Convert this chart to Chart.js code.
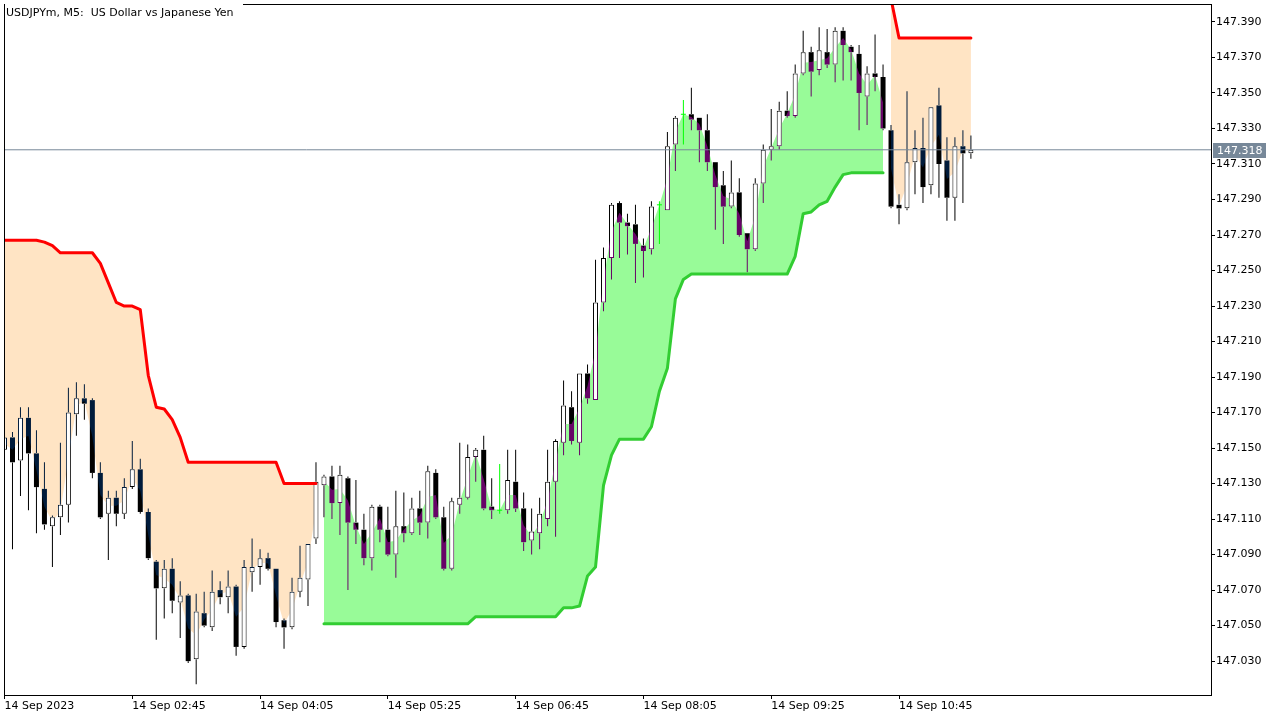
<!DOCTYPE html>
<html>
<head>
<meta charset="utf-8">
<script src="https://cdn.jsdelivr.net/npm/chart.js@4.4.0/dist/chart.umd.min.js"></script>
<style>
html,body{margin:0;padding:0;background:#fff;overflow:hidden}
canvas{display:block}
</style>
</head>
<body>
<canvas id="c" width="1280" height="720"></canvas>
<script>
// ---- data (USDJPYm, M5, bars from 14 Sep 01:25) ----
const opens = [147.149,147.156,147.143,147.167,147.147,147.127,147.106,147.111,147.118,147.169,
147.178,147.177,147.136,147.113,147.122,147.113,147.128,147.138,147.114,147.086,
147.071,147.082,147.063,147.067,147.031,147.057,147.049,147.070,147.066,147.072,
147.038,147.080,147.083,147.088,147.082,147.053,147.049,147.069,147.076,147.099,
147.129,147.134,147.119,147.133,147.108,147.104,147.088,147.117,147.104,147.090,
147.106,147.102,147.116,147.108,147.136,147.111,147.082,147.118,147.122,147.145,
147.149,147.117,147.115,147.115,147.131,147.116,147.098,147.102,147.110,147.131,
147.153,147.173,147.153,147.192,147.177,147.232,147.257,147.288,147.277,147.276,
147.264,147.262,147.287,147.284,147.321,147.338,147.338,147.336,147.329,147.311,
147.298,147.286,147.294,147.271,147.262,147.299,147.318,147.320,147.340,147.337,
147.361,147.373,147.363,147.373,147.366,147.385,147.376,147.372,147.348,147.361,
147.359,147.329,147.287,147.285,147.311,147.319,147.298,147.343,147.312,147.291,
147.320,147.316];
const highs = [147.157,147.159,147.173,147.173,147.160,147.142,147.112,147.153,147.184,147.187,
147.186,147.178,147.142,147.126,147.126,147.133,147.154,147.144,147.116,147.087,
147.087,147.088,147.075,147.068,147.068,147.069,147.081,147.075,147.081,147.073,
147.087,147.099,147.093,147.091,147.082,147.054,147.077,147.095,147.096,147.142,
147.135,147.140,147.140,147.134,147.132,147.113,147.118,147.118,147.117,147.126,
147.125,147.122,147.126,147.140,147.138,147.117,147.122,147.153,147.152,147.150,
147.157,147.133,147.141,147.149,147.149,147.125,147.116,147.122,147.149,147.155,
147.188,147.182,147.192,147.197,147.256,147.263,147.288,147.289,147.282,147.287,
147.268,147.289,147.289,147.328,147.337,147.346,147.353,147.336,147.338,147.311,
147.306,147.312,147.302,147.271,147.302,147.321,147.341,147.345,147.351,147.366,
147.385,147.376,147.387,147.386,147.387,147.387,147.377,147.377,147.365,147.383,
147.366,147.332,147.293,147.351,147.329,147.336,147.342,147.353,147.325,147.325,
147.329,147.326];
const lows = [147.147,147.093,147.123,147.115,147.102,147.104,147.083,147.101,147.108,147.157,
147.166,147.133,147.110,147.087,147.106,147.110,147.127,147.113,147.087,147.042,
147.054,147.057,147.043,147.029,147.017,147.049,147.047,147.062,147.057,147.033,
147.037,147.069,147.073,147.081,147.049,147.037,147.048,147.066,147.061,147.096,
147.111,147.110,147.101,147.070,147.096,147.084,147.081,147.097,147.089,147.077,
147.097,147.101,147.101,147.099,147.110,147.081,147.081,147.113,147.121,147.131,
147.115,147.110,147.113,147.113,147.114,147.092,147.090,147.093,147.106,147.100,
147.146,147.152,147.146,147.175,147.177,147.227,147.245,147.257,147.259,147.243,
147.246,147.259,147.265,147.284,147.306,147.321,147.329,147.311,147.306,147.273,
147.265,147.285,147.269,147.249,147.261,147.288,147.312,147.318,147.336,147.336,
147.360,147.348,147.360,147.364,147.356,147.357,147.357,147.329,147.332,147.351,
147.329,147.285,147.276,147.284,147.293,147.288,147.293,147.291,147.278,147.278,
147.288,147.313];
const closes = [147.156,147.142,147.167,147.147,147.128,147.107,147.111,147.118,147.170,147.178,
147.175,147.136,147.111,147.122,147.113,147.128,147.138,147.114,147.088,147.071,
147.082,147.064,147.067,147.030,147.058,147.050,147.069,147.066,147.072,147.038,
147.083,147.083,147.088,147.082,147.052,147.049,147.069,147.077,147.096,147.131,
147.134,147.119,147.135,147.108,147.104,147.088,147.117,147.104,147.090,147.106,
147.102,147.116,147.108,147.137,147.111,147.082,147.120,147.122,147.145,147.149,
147.116,147.115,147.115,147.132,147.116,147.097,147.103,147.113,147.131,147.154,
147.174,147.154,147.192,147.178,147.232,147.257,147.287,147.277,147.275,147.265,
147.261,147.286,147.287,147.320,147.336,147.338,147.335,147.329,147.311,147.297,
147.286,147.294,147.270,147.262,147.299,147.318,147.320,147.340,147.337,147.361,
147.373,147.362,147.374,147.366,147.385,147.377,147.373,147.350,147.361,147.359,
147.330,147.286,147.285,147.311,147.319,147.297,147.342,147.310,147.291,147.320,
147.316,147.318];

// trailing stop, down-trend part 1 (bars 0..39)
const downStopAStart = 0;
const downStopA = [147.267,147.267,147.267,147.267,147.267,147.266,147.264,147.260,147.260,147.260,
147.260,147.260,147.254,147.243,147.232,147.230,147.230,147.228,147.191,147.173,
147.172,147.166,147.156,147.142,147.142,147.142,147.142,147.142,147.142,147.142,
147.142,147.142,147.142,147.142,147.142,147.130,147.130,147.130,147.130,147.130];
// trailing stop, up-trend (bars 40..110)
const upStopStart = 40;
const upStop = [147.051,147.051,147.051,147.051,147.051,147.051,147.051,147.051,147.051,147.051,
147.051,147.051,147.051,147.051,147.051,147.051,147.051,147.051,147.051,147.055,
147.055,147.055,147.055,147.055,147.055,147.055,147.055,147.055,147.055,147.055,
147.060,147.060,147.061,147.078,147.083,147.129,147.146,147.155,147.155,147.155,
147.155,147.162,147.182,147.195,147.234,147.245,147.248,147.248,147.248,147.248,
147.248,147.248,147.248,147.248,147.248,147.248,147.248,147.248,147.248,147.258,
147.282,147.283,147.287,147.289,147.297,147.304,147.305,147.305,147.305,147.305,
147.305];
// trailing stop, down-trend part 2 (bars 111..121)
const downStopBStart = 111;
const downStopB = [147.403,147.381,147.381,147.381,147.381,147.381,147.381,147.381,147.381,147.381,147.381];

const priceTicks = [147.030,147.050,147.070,147.090,147.110,147.130,147.150,147.170,147.190,147.210,
147.230,147.250,147.270,147.290,147.310,147.330,147.350,147.370,147.390];
const timeLabelBars = [0,16,32,48,64,80,96,112];
const timeLabels = ['14 Sep 2023','14 Sep 02:45','14 Sep 04:05','14 Sep 05:25','14 Sep 06:45','14 Sep 08:05','14 Sep 09:25','14 Sep 10:45'];
const lastPrice = 147.318;
const titleText = 'USDJPYm, M5:  US Dollar vs Japanese Yen';

const xMin = 0.0625, xMax = 151.0625;
const yMin = 147.01091, yMax = 147.39955;

// ---- derived marks ----
const upBodies=[], downBodies=[], upperWicks=[], lowerWicks=[], dojiWicks=[], dojiTicks=[];
for (let i=0;i<opens.length;i++){
  const o=opens[i], c=closes[i], h=highs[i], l=lows[i];
  if (o===c){ dojiWicks.push({x:i,y:[l,h]}); dojiTicks.push({x:i,y:c}); continue; }
  const top=Math.max(o,c), bot=Math.min(o,c);
  (c>o?upBodies:downBodies).push({x:i,y:[bot,top]});
  if (h>top) upperWicks.push({x:i,y:[top,h]});
  if (l<bot) lowerWicks.push({x:i,y:[l,bot]});
}
const pts = (arr,start)=>arr.map((v,j)=>({x:start+j,y:v}));
const mids = (arr,start)=>arr.map((v,j)=>{const i=start+j;return {x:i,y:(opens[i]+closes[i])/2};});

const PEACH='#ffe4c4', PALE='#98fb98';
function fillPair(arr,start,color){
  return [
    {type:'line',data:pts(arr,start),fill:'+1',backgroundColor:color,borderColor:'rgba(0,0,0,0)',borderWidth:0,pointRadius:0,order:10,tension:0},
    {type:'line',data:mids(arr,start),fill:false,borderColor:'rgba(0,0,0,0)',borderWidth:0,pointRadius:0,order:10,tension:0}
  ];
}
const barCommon = {type:'bar',grouped:false,borderSkipped:false,inflateAmount:0};
const stopLine = (arr,start,color)=>({type:'line',data:pts(arr,start),borderColor:color,borderWidth:3,pointRadius:0,fill:false,order:2,tension:0,borderJoinStyle:'round',borderCapStyle:'round',clip:0});

const datasets = [
  ...fillPair(downStopA,downStopAStart,PEACH),
  ...fillPair(upStop,upStopStart,PALE),
  ...fillPair(downStopB,downStopBStart,PEACH),
  Object.assign({},barCommon,{data:upBodies,backgroundColor:'rgba(0,0,0,0)',borderColor:'#fff',borderWidth:1,barThickness:5,maxBarThickness:5,order:8,blend:true}),
  Object.assign({},barCommon,{data:downBodies,backgroundColor:'#fff',borderWidth:0,barThickness:5,maxBarThickness:5,order:8,blend:true}),
  Object.assign({},barCommon,{data:upperWicks,backgroundColor:'#fff',borderWidth:0,barThickness:1,maxBarThickness:1,order:8,blend:true}),
  Object.assign({},barCommon,{data:lowerWicks,backgroundColor:'#fff',borderWidth:0,barThickness:1,maxBarThickness:1,order:8,blend:true}),
  Object.assign({},barCommon,{data:upBodies,backgroundColor:'#fff',borderColor:'rgba(0,0,0,0)',borderWidth:1,barThickness:5,maxBarThickness:5,order:7}),
  Object.assign({},barCommon,{data:dojiWicks,backgroundColor:'#00ff00',borderWidth:0,barThickness:1,maxBarThickness:1,order:5}),
  {type:'line',data:dojiTicks,showLine:false,pointStyle:'line',pointRadius:2.5,pointBorderColor:'#00ff00',pointBorderWidth:1,order:5},
  stopLine(downStopA,downStopAStart,'#ff0000'),
  stopLine(upStop,upStopStart,'#32cd32'),
  stopLine(downStopB,downStopBStart,'#ff0000'),
  {type:'line',data:[{x:xMin,y:lastPrice},{x:xMax,y:lastPrice}],borderColor:'#778899',borderWidth:1,pointRadius:0,fill:false,order:1}
];

const blendPlugin = {
  id:'blend',
  beforeDatasetDraw(chart,args){ if (chart.data.datasets[args.index].blend){ chart.ctx.save(); chart.ctx.globalCompositeOperation='difference'; } },
  afterDatasetDraw(chart,args){ if (chart.data.datasets[args.index].blend){ chart.ctx.restore(); } }
};
const decoPlugin = {
  id:'deco',
  beforeDraw(chart){ const c=chart.ctx; c.save(); c.fillStyle='#fff'; c.fillRect(0,0,chart.width,chart.height); c.restore(); },
  afterDraw(chart){
    const c=chart.ctx, a=chart.chartArea;
    c.save();
    c.strokeStyle='#000'; c.lineWidth=1;
    c.strokeRect(a.left-0.5,a.top-0.5,a.right-a.left+1,a.bottom-a.top+1);
    c.fillStyle='#fff'; c.fillRect(a.left,0,238,a.top);
    c.fillStyle='#000'; c.font='11px "DejaVu Sans"'; c.textBaseline='alphabetic'; c.textAlign='left';
    c.fillText(titleText,6,16);
    const y=Math.round(chart.scales.y.getPixelForValue(lastPrice));
    c.fillStyle='#778899'; c.fillRect(a.right+2,y-7,53,15);
    c.fillStyle='#fff'; c.textBaseline='middle';
    c.fillText(lastPrice.toFixed(3),a.right+6,y+1);
    c.restore();
  }
};

Chart.defaults.font.family = "'DejaVu Sans'";
Chart.defaults.font.size = 11;
Chart.defaults.color = '#000';

const noPad = (s)=>{ s.paddingTop=0; s.paddingBottom=0; s.paddingLeft=0; s.paddingRight=0; };

new Chart(document.getElementById('c'),{
  type:'bar',
  data:{datasets},
  options:{
    responsive:false, animation:false, devicePixelRatio:1, events:[],
    layout:{padding:{left:3,top:3,right:0,bottom:0}},
    plugins:{legend:{display:false},tooltip:{enabled:false}},
    scales:{
      x:{type:'linear',min:xMin,max:xMax,offset:false,
        grid:{display:true,drawOnChartArea:false,drawTicks:true,tickLength:4,color:'#000',offset:false},
        border:{display:false},
        afterBuildTicks:(s)=>{ s.ticks = timeLabelBars.map(v=>({value:v})); },
        afterFit:(s)=>{ s.height = 25; noPad(s); },
        ticks:{autoSkip:false,maxRotation:0,align:'start',padding:1,callback:(v,i)=>timeLabels[i]}
      },
      y:{type:'linear',position:'right',min:yMin,max:yMax,
        grid:{display:true,drawOnChartArea:false,drawTicks:true,tickLength:4,color:'#000'},
        border:{display:false},
        afterBuildTicks:(s)=>{ s.ticks = priceTicks.map(v=>({value:v})); },
        afterFit:(s)=>{ s.width = 69; noPad(s); },
        ticks:{padding:1,autoSkip:false,callback:(v)=>Number(v).toFixed(3)}
      }
    }
  },
  plugins:[blendPlugin,decoPlugin]
});
</script>
</body>
</html>
